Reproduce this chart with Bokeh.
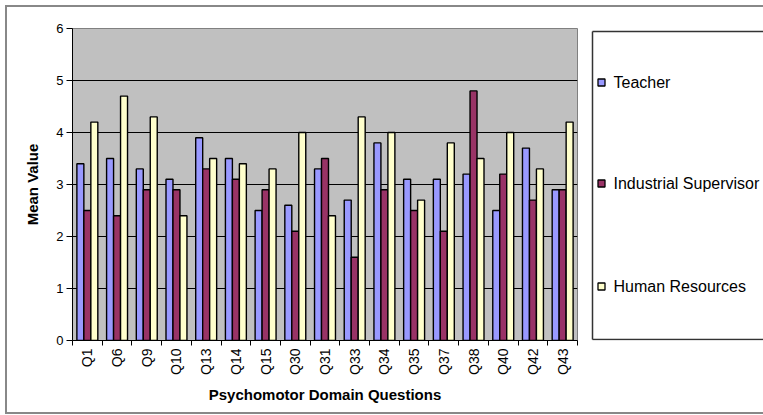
import math
from bokeh.plotting import figure
from bokeh.layouts import row
from bokeh.models import ColumnDataSource, Range1d, FixedTicker
from bokeh.core.properties import value
from bokeh.transform import dodge
from bokeh.embed import file_html
from bokeh.resources import INLINE

# ---- data ----
questions = ["Q1", "Q6", "Q9", "Q10", "Q13", "Q14", "Q15", "Q30", "Q31",
             "Q33", "Q34", "Q35", "Q37", "Q38", "Q40", "Q42", "Q43"]
teacher = [3.4, 3.5, 3.3, 3.1, 3.9, 3.5, 2.5, 2.6, 3.3, 2.7, 3.8, 3.1, 3.1, 3.2, 2.5, 3.7, 2.9]
industrial = [2.5, 2.4, 2.9, 2.9, 3.3, 3.1, 2.9, 2.1, 3.5, 1.6, 2.9, 2.5, 2.1, 4.8, 3.2, 2.7, 2.9]
human = [4.2, 4.7, 4.3, 2.4, 3.5, 3.4, 3.3, 4.0, 2.4, 4.3, 4.0, 2.7, 3.8, 3.5, 4.0, 3.3, 4.2]
series_names = ["Teacher", "Industrial Supervisor", "Human Resources"]
series_colors = ["#9999FF", "#993366", "#FFFFCC"]
y_ticks = [0, 1, 2, 3, 4, 5, 6]

FONT = "Liberation Sans"

n = len(questions)
idx = list(range(n))
source = ColumnDataSource(data=dict(x=idx, q=questions, teacher=teacher,
                                    industrial=industrial, human=human))

# ---------------- main chart ----------------
MAIN_W, H = 579, 405
TOP, BOTTOM = 21, 72
FRAME_H = H - TOP - BOTTOM
p = figure(width=MAIN_W, height=H, x_range=Range1d(-0.5, n - 0.5), y_range=Range1d(0, 6),
           output_backend="svg", toolbar_location=None,
           min_border_left=65, min_border_right=9, min_border_top=TOP,
           min_border_bottom=BOTTOM)
p.background_fill_color = "#C0C0C0"
p.border_fill_color = "white"
p.outline_line_color = "#808080"
p.outline_line_width = 1

bw = 0.235
cols = ["teacher", "industrial", "human"]
offsets = [-bw, 0.0, bw]
for col, off, color in zip(cols, offsets, series_colors):
    p.vbar(x=dodge("x", off), top=col, width=bw, source=source,
           fill_color=color, line_color="black", line_width=1.4)

p.xgrid.visible = False
p.ygrid.grid_line_color = "black"
p.ygrid.grid_line_width = 1

yax = p.yaxis[0]
yax.ticker = FixedTicker(ticks=y_ticks)
yax.axis_line_color = "black"
yax.major_tick_out = 6
yax.major_tick_in = 0
yax.minor_tick_line_color = None
yax.major_label_text_font = FONT
yax.major_label_text_font_size = "13px"
yax.major_label_text_color = "black"
yax.major_label_standoff = 3
yax.axis_label = "Mean Value"
yax.axis_label_text_font = FONT
yax.axis_label_text_font_size = "15px"
yax.axis_label_text_font_style = "bold"
yax.axis_label_text_color = "black"
yax.axis_label_standoff = 12

xax = p.xaxis[0]
xax.ticker = FixedTicker(ticks=idx, minor_ticks=[i - 0.5 for i in range(n + 1)])
xax.major_label_overrides = {i: q for i, q in zip(idx, questions)}
xax.major_tick_line_color = None
xax.major_tick_out = 5
xax.major_tick_in = 0
xax.minor_tick_line_color = "black"
xax.minor_tick_out = 5
xax.minor_tick_in = 0
xax.axis_line_color = "black"
xax.major_label_orientation = math.pi / 2
xax.major_label_text_font = FONT
xax.major_label_text_font_size = "14px"
xax.major_label_text_color = "black"
xax.major_label_standoff = 3
xax.axis_label = "Psychomotor Domain Questions"
xax.axis_label_text_font = FONT
xax.axis_label_text_font_size = "15px"
xax.axis_label_text_font_style = "bold"
xax.axis_label_text_color = "black"
xax.axis_label_standoff = 8

# ---------------- legend panel ----------------
LEG_W = 177
lg = figure(width=LEG_W, height=H, x_range=Range1d(0, LEG_W), y_range=Range1d(0, FRAME_H),
            output_backend="svg", toolbar_location=None,
            x_axis_location=None, y_axis_location=None,
            min_border_left=0, min_border_right=0,
            min_border_top=TOP, min_border_bottom=BOTTOM)
lg.outline_line_color = None
lg.background_fill_color = "white"
lg.border_fill_color = "white"
lg.xgrid.visible = False
lg.ygrid.grid_line_color = None

box_left, box_top, box_bottom = 6, 309, 1
lg.segment(x0=[box_left, box_left, box_left], y0=[box_bottom, box_top, box_bottom],
           x1=[box_left, LEG_W, LEG_W], y1=[box_top, box_top, box_bottom],
           line_color="#333333", line_width=1.5)

leg_src = ColumnDataSource(data=dict(name=series_names, color=series_colors,
                                     y=[258, 157, 54]))
lg.rect(x=15, y="y", width=7, height=7, source=leg_src,
        fill_color="color", line_color="black", line_width=1.3)
lg.text(x=27, y="y", text="name", source=leg_src, text_font=value(FONT),
        text_font_size="16px", text_color="black", text_baseline="middle",
        text_align="left")

layout = row(p, lg, margin=(5, 0, 0, 5),
             styles={"border": "2px solid #888888", "border-right": "none",
                     "background-color": "white"})

open("out.html", "w").write(file_html(layout, INLINE))
